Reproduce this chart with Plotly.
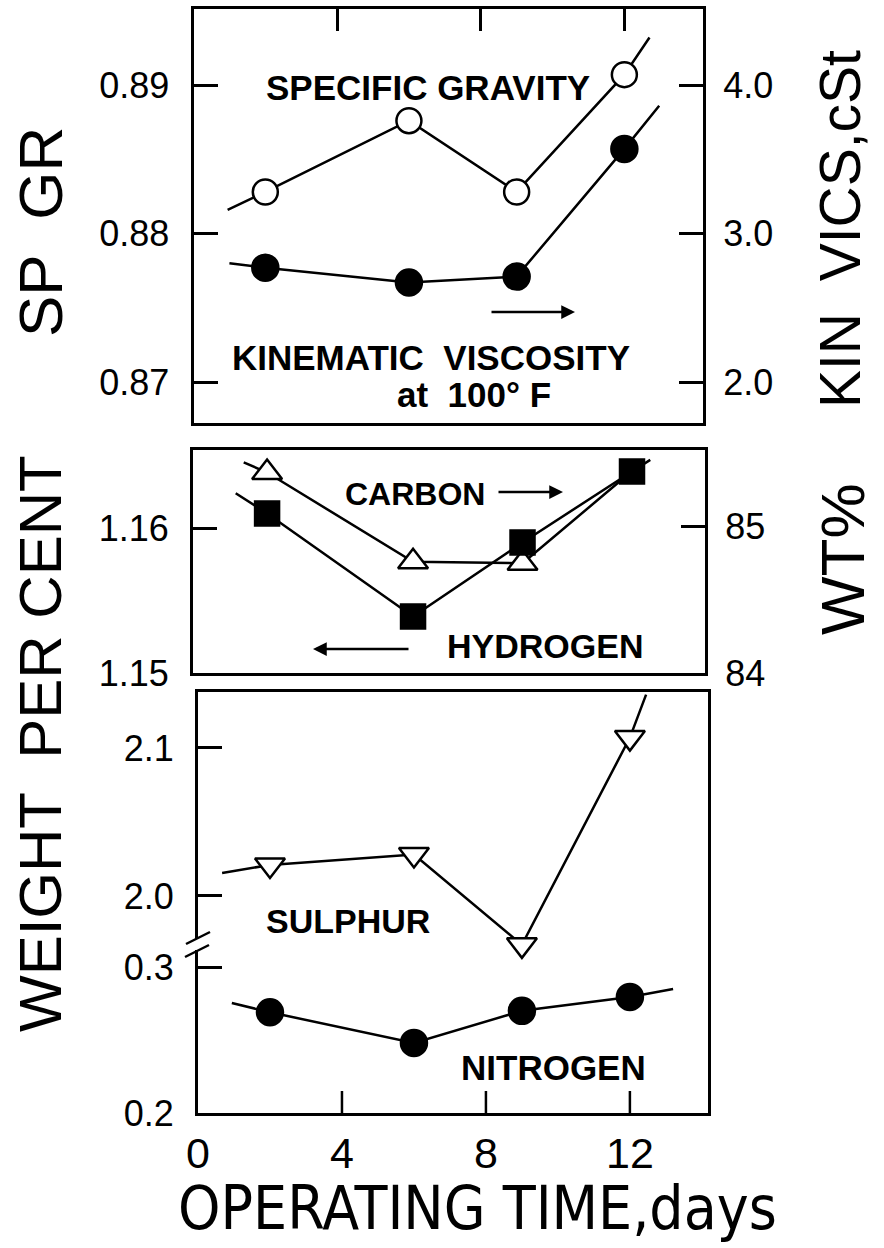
import plotly.graph_objects as go

W, H = 884, 1248

# ---------------- data ----------------
days = [2, 6, 9, 12]

sp_gravity = [0.8828, 0.8876, 0.8828, 0.8907]
sp_gravity_line_x = [0.95, 2, 6, 9, 12, 12.7]
sp_gravity_line_y = [0.8816, 0.8828, 0.8876, 0.8828, 0.8907, 0.8932]

kin_viscosity = [2.77, 2.67, 2.71, 3.57]
kin_viscosity_line_x = [1.0, 2, 6, 9, 12, 12.97]
kin_viscosity_line_y = [2.80, 2.77, 2.67, 2.71, 3.57, 3.86]

hydrogen = [1.1610, 1.1539, 1.1590, 1.1639]
hydrogen_line_x = [1.14, 2, 6, 9, 12, 12.5]
hydrogen_line_y = [1.1624, 1.1610, 1.1539, 1.1590, 1.1639, 1.1647]

carbon = [85.37, 84.76, 84.75, 85.38]
carbon_line_x = [1.36, 2, 6, 9, 12]
carbon_line_y = [85.44, 85.37, 84.76, 84.75, 85.38]

sulphur = [2.021, 2.028, 1.967, 2.107]
sulphur_line_x = [0.67, 2, 6, 9, 12, 12.45]
sulphur_line_y = [2.0155, 2.021, 2.028, 1.967, 2.107, 2.136]

nitrogen = [0.269, 0.248, 0.270, 0.2795]
nitrogen_line_x = [0.94, 2, 6, 9, 12, 13.2]
nitrogen_line_y = [0.2753, 0.269, 0.248, 0.270, 0.2795, 0.285]

x_ticks = [0, 4, 8, 12]
x_ticklabels = ["0", "4", "8", "12"]
spgr_ticks = [0.87, 0.88, 0.89]
spgr_ticklabels = ["0.87", "0.88", "0.89"]
kv_ticks = [2, 3, 4]
kv_ticklabels = ["2.0", "3.0", "4.0"]
h_ticks = [1.15, 1.16]
h_ticklabels = ["1.15", "1.16"]
c_ticks = [84, 85]
c_ticklabels = ["84", "85"]
s_ticks = [2.0, 2.1]
s_ticklabels = ["2.0", "2.1"]
n_ticks = [0.2, 0.3]
n_ticklabels = ["0.2", "0.3"]

# ---------------- styling ----------------
FONT = "Liberation Sans, Arial, sans-serif"
COND = "DejaVu Sans Condensed, Liberation Sans, Arial, sans-serif"
BLACK = "black"
LW = 2.5
FRAME = 3


def px_x(p):
    return p / W


def px_y(p):
    return 1 - p / H


top_dom = [px_y(423), px_y(9)]
mid_dom = [px_y(673), px_y(450)]
bot_dom = [px_y(1113), px_y(692)]

fig = go.Figure()


def line_trace(x, y, xa, ya):
    fig.add_trace(go.Scatter(x=x, y=y, mode="lines", xaxis=xa, yaxis=ya,
                             line=dict(color=BLACK, width=LW),
                             showlegend=False, hoverinfo="skip"))


def marker_trace(x, y, xa, ya, symbol, filled, size):
    fig.add_trace(go.Scatter(
        x=x, y=y, mode="markers", xaxis=xa, yaxis=ya,
        marker=dict(symbol=symbol, size=size,
                    color=BLACK if filled else "white",
                    line=dict(color=BLACK, width=2.5)),
        showlegend=False))


# top panel
line_trace(sp_gravity_line_x, sp_gravity_line_y, "x", "y")
marker_trace(days, sp_gravity, "x", "y", "circle", False, 25)
line_trace(kin_viscosity_line_x, kin_viscosity_line_y, "x", "y2")
marker_trace(days, kin_viscosity, "x", "y2", "circle", True, 26)

# middle panel: carbon on the base axis (y3, right), hydrogen above it (y4, left)
line_trace(carbon_line_x, carbon_line_y, "x2", "y3")
marker_trace(days[:3], carbon[:3], "x2", "y3", "triangle-up", False, 26)
# the carbon point at day 12 sits hidden behind the hydrogen square
marker_trace(days[3:], carbon[3:], "x2", "y3", "triangle-up", False, 20)
line_trace(hydrogen_line_x, hydrogen_line_y, "x2", "y4")
marker_trace(days, hydrogen, "x2", "y4", "square", True, 24)

# bottom panel
line_trace(sulphur_line_x, sulphur_line_y, "x3", "y5")
marker_trace(days, sulphur, "x3", "y5", "triangle-down", False, 26)
line_trace(nitrogen_line_x, nitrogen_line_y, "x3", "y6")
marker_trace(days, nitrogen, "x3", "y6", "circle", True, 26)

tickfont = dict(family=FONT, size=36, color=BLACK)

xcommon = dict(showline=True, linewidth=FRAME, linecolor=BLACK, mirror=True,
               showgrid=False, zeroline=False, fixedrange=True)
ycommon = dict(showline=True, linewidth=FRAME, linecolor=BLACK,
               showgrid=False, zeroline=False, ticks="inside", ticklen=24,
               tickwidth=2.5, tickcolor=BLACK, tickfont=tickfont,
               fixedrange=True)

fig.update_layout(
    xaxis=dict(**xcommon, domain=[px_x(193.5), px_x(703)], range=[0, 14.19],
               anchor="y", side="top", ticks="inside",
               tickvals=[4, 8, 12], ticklen=22, tickwidth=2.5,
               tickcolor=BLACK, showticklabels=False),
    xaxis2=dict(**xcommon, domain=[px_x(193), px_x(705)], range=[-0.03, 14.0],
                anchor="y3", ticks="", showticklabels=False),
    xaxis3=dict(**xcommon, domain=[px_x(198), px_x(708)], range=[0, 14.17],
                anchor="y5", side="bottom", ticks="",
                tickvals=x_ticks, ticktext=x_ticklabels,
                tickfont=dict(family=FONT, size=43, color=BLACK)),
    yaxis=dict(**ycommon, domain=top_dom, anchor="x", side="left",
               range=[0.86724, 0.89512], tickvals=spgr_ticks,
               ticktext=spgr_ticklabels, ticklabelstandoff=14),
    yaxis2=dict(**ycommon, overlaying="y", anchor="x", side="right",
                range=[1.724, 4.512], tickvals=kv_ticks,
                ticktext=kv_ticklabels, ticklabelstandoff=10),
    yaxis3=dict(**ycommon, domain=mid_dom, anchor="x2", side="right",
                range=[84, 85.524], tickvals=c_ticks,
                ticktext=c_ticklabels, ticklabelstandoff=10),
    yaxis4=dict(**ycommon, overlaying="y3", anchor="x2", side="left",
                range=[1.15, 1.16538], tickvals=h_ticks,
                ticktext=h_ticklabels, ticklabelstandoff=14),
    yaxis5=dict(**ycommon, domain=bot_dom, anchor="x3", side="left",
                range=[1.8534, 2.1378], tickvals=s_ticks, mirror=True,
                ticktext=s_ticklabels, ticklabelstandoff=14),
    yaxis6=dict(**ycommon, overlaying="y5", anchor="x3", side="left",
                range=[0.2, 0.4884], tickvals=n_ticks,
                ticktext=n_ticklabels, ticklabelstandoff=14),
)

annotations = []


def text(t, x, y, size, family=FONT, bold=False, angle=0):
    annotations.append(dict(
        text=("<b>%s</b>" % t) if bold else t, x=px_x(x), y=px_y(y),
        xref="paper", yref="paper", showarrow=False, textangle=angle,
        xanchor="center", yanchor="middle",
        font=dict(family=family, size=size, color=BLACK)))


def arrow(x0, x1, y):
    annotations.append(dict(
        x=px_x(x1), y=px_y(y), xref="paper", yref="paper",
        ax=x0 - x1, ay=0, axref="pixel", ayref="pixel", text="",
        showarrow=True, arrowhead=2, arrowsize=1.1, arrowwidth=2.5,
        arrowcolor=BLACK))


NB = "\u00a0"
# panel labels
text("SPECIFIC GRAVITY", 428, 88, 35, bold=True)
text("KINEMATIC" + NB * 2 + "VISCOSITY", 431, 357, 35, bold=True)
text("at" + NB * 2 + "100°" + NB + "F", 474, 394, 35, bold=True)
arrow(490, 575, 312)
text("CARBON", 415, 494, 32, bold=True)
arrow(497, 563, 492)
text("HYDROGEN", 545, 646, 34, bold=True)
arrow(410, 313, 649)
text("SULPHUR", 348, 921, 34, bold=True)
text("NITROGEN", 553, 1067, 35, bold=True)

# axis titles
text("SP" + NB * 2 + "GR", 40, 232, 62, angle=-90)
text("WEIGHT" + NB * 2 + "PER" + NB + "CENT", 40, 744, 60, angle=-90)
text("KIN" + NB * 2 + "VICS,cSt", 840, 229, 57, angle=-90)
text("WT%", 842, 559, 62, angle=-90)
text("OPERATING TIME,days", 478, 1208, 60, family=COND)

# axis break marks on bottom-left axis
shapes = [
    dict(type="rect", xref="paper", yref="paper",
         x0=px_x(192), x1=px_x(204), y0=px_y(950), y1=px_y(939),
         fillcolor="white", line=dict(width=0)),
    dict(type="line", xref="paper", yref="paper",
         x0=px_x(186), y0=px_y(944), x1=px_x(210), y1=px_y(932),
         line=dict(color=BLACK, width=2.5)),
    dict(type="line", xref="paper", yref="paper",
         x0=px_x(185), y0=px_y(957), x1=px_x(209), y1=px_y(945),
         line=dict(color=BLACK, width=2.5)),
]
# inward tick marks on the bottom day axis, placed on the x3 scale
tick_frac = 22 / (1113 - 692)
for tv in x_ticks[1:]:
    shapes.append(dict(type="line", xref="x3", yref="y5 domain",
                       x0=tv, x1=tv, y0=0, y1=tick_frac,
                       line=dict(color=BLACK, width=2.5)))

fig.update_layout(
    width=W, height=H, template="none",
    margin=dict(l=0, r=0, t=0, b=0, pad=0),
    paper_bgcolor="white", plot_bgcolor="rgba(0,0,0,0)",
    annotations=annotations, shapes=shapes, showlegend=False,
)

fig.write_html("out.html", config={"displayModeBar": False})
